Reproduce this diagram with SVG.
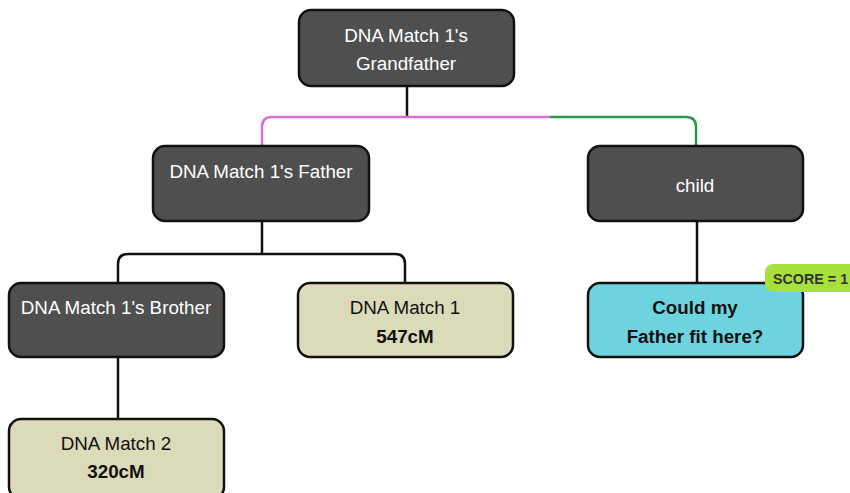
<svg xmlns="http://www.w3.org/2000/svg" width="850" height="493" viewBox="0 0 850 493">
<style>
.box{stroke:#111;stroke-width:2.5}
.dark{fill:#4f4f4f}
.tan{fill:#dcdbb9}
.cyan{fill:#6dd3df}
.t{font-family:"Liberation Sans",Arial,sans-serif;font-size:18.8px;text-anchor:middle}
.w{fill:#fff}
.k{fill:#111}
.b{font-weight:bold}
.ln{fill:none;stroke:#111;stroke-width:2.5}
</style>
<rect width="850" height="493" fill="#fff"/>
<g id="connectors">
<path class="ln" d="M407 86V117"/>
<path d="M550 117H272Q262 117 262 127V146" fill="none" stroke="#d86fd8" stroke-width="2.5"/>
<path d="M550 117H686Q696 117 696 127V146" fill="none" stroke="#2a9a4a" stroke-width="2.5"/>
<path class="ln" d="M262 221V254"/>
<path class="ln" d="M118 283V264Q118 254 128 254H395Q405 254 405 264V283"/>
<path class="ln" d="M697 221V283"/>
<path class="ln" d="M118 357V418"/>
</g>
<g id="grandfather">
<rect class="box dark" x="299" y="10" width="215" height="76" rx="12"/>
<text class="t w" x="406" y="42">DNA Match 1's</text>
<text class="t w" x="406" y="70">Grandfather</text>
</g>
<g id="father">
<rect class="box dark" x="153" y="146" width="216" height="75" rx="12"/>
<text class="t w" x="261" y="178">DNA Match 1's Father</text>
</g>
<g id="child">
<rect class="box dark" x="588" y="146" width="215" height="75" rx="12"/>
<text class="t w" x="695" y="192">child</text>
</g>
<g id="brother">
<rect class="box dark" x="9" y="283" width="215" height="74" rx="12"/>
<text class="t w" x="116" y="314">DNA Match 1's Brother</text>
</g>
<g id="match1">
<rect class="box tan" x="298" y="283" width="215" height="74" rx="12"/>
<text class="t k" x="405" y="314">DNA Match 1</text>
<text class="t k b" x="405" y="343">547cM</text>
</g>
<g id="match2">
<rect class="box tan" x="9" y="419" width="215" height="80" rx="12"/>
<text class="t k" x="116" y="450">DNA Match 2</text>
<text class="t k b" x="116" y="478">320cM</text>
</g>
<g id="could">
<rect class="box cyan" x="588" y="283" width="215" height="74" rx="12"/>
<text class="t k b" x="695" y="314">Could my</text>
<text class="t k b" x="695" y="343">Father fit here?</text>
</g>
<g id="score">
<rect x="765" y="264" width="95" height="28" rx="8" fill="#a6e03c"/>
<text x="773" y="284" font-family="Liberation Sans,Arial,sans-serif" font-size="14.3" font-weight="bold" fill="#333">SCORE = 1</text>
</g>
</svg>
